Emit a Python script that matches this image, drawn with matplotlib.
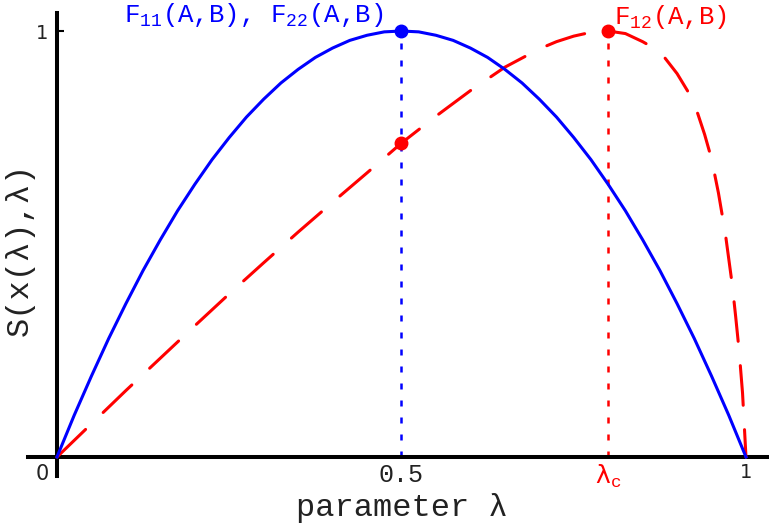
import matplotlib.pyplot as plt

# F11 / F22 curve (solid blue)
lam_blue = [0, 0.025, 0.05, 0.075, 0.1, 0.125, 0.15, 0.175, 0.2, 0.225, 0.25,
            0.275, 0.3, 0.325, 0.35, 0.375, 0.4, 0.425, 0.45, 0.475, 0.5,
            0.525, 0.55, 0.575, 0.6, 0.625, 0.65, 0.675, 0.7, 0.725, 0.75,
            0.775, 0.8, 0.825, 0.85, 0.875, 0.9, 0.925, 0.95, 0.975, 1.0]
s_blue = [0, 0.098, 0.19, 0.278, 0.36, 0.438, 0.51, 0.578, 0.64, 0.698, 0.75,
          0.798, 0.84, 0.878, 0.91, 0.938, 0.96, 0.978, 0.99, 0.998, 1.0,
          0.998, 0.99, 0.978, 0.96, 0.938, 0.91, 0.878, 0.84, 0.798, 0.75,
          0.698, 0.64, 0.578, 0.51, 0.438, 0.36, 0.278, 0.19, 0.098, 0]

# F12 curve (dashed red)
lam_red = [0, 0.05, 0.1, 0.15, 0.2, 0.25, 0.3, 0.35, 0.4, 0.45, 0.5, 0.55,
           0.6, 0.65, 0.7, 0.725, 0.75, 0.775, 0.8, 0.825, 0.85, 0.875, 0.9,
           0.915, 0.93, 0.94, 0.95, 0.96, 0.97, 0.98, 0.985, 0.99, 0.995, 1.0]
s_red = [0, 0.078, 0.156, 0.232, 0.308, 0.383, 0.456, 0.528, 0.598, 0.667,
         0.737, 0.800, 0.860, 0.915, 0.958, 0.975, 0.988, 0.997, 1.0, 0.994,
         0.975, 0.952, 0.90, 0.86, 0.806, 0.757, 0.70, 0.62, 0.525, 0.405,
         0.33, 0.25, 0.15, 0]

lam_half = 0.5
lam_c = 0.8

xtick_pos = [0.5, lam_c, 1]
xtick_txt = ['0.5', 'λ$_\\mathrm{c}$', '1']

plt.rcParams['mathtext.fontset'] = 'custom'
plt.rcParams['mathtext.rm'] = 'Liberation Mono'
plt.rcParams['mathtext.it'] = 'Liberation Mono'

fig = plt.figure(figsize=(7.69, 5.29), dpi=100)
ax = fig.add_axes([0, 0, 1, 1])
ax.set_xlim(-0.0827, 1.0334)
ax.set_ylim(-0.169, 1.0728)

ax.plot(lam_red, s_red, color='red', lw=2.2, dashes=(13, 8),
        dash_capstyle='round', zorder=3)
ax.plot(lam_blue, s_blue, color='blue', lw=2.2, zorder=4)

peak_blue = max(s_blue)
red_half = s_red[lam_red.index(lam_half)]
red_peak = s_red[lam_red.index(lam_c)]

# dotted guides down to the axis
ax.plot([lam_half, lam_half], [0, peak_blue], color='blue', lw=1.8,
        ls=(0, (2.4, 4.4)), zorder=2)
ax.plot([lam_c, lam_c], [0, red_peak], color='red', lw=1.8,
        ls=(0, (2.4, 4.4)), zorder=2)

ax.plot([lam_half], [peak_blue], 'o', color='blue', ms=9, zorder=5)
ax.plot([lam_half], [red_half], 'o', color='red', ms=9, zorder=5)
ax.plot([lam_c], [red_peak], 'o', color='red', ms=9, zorder=5)

# axes crossing at the origin
for side in ['top', 'right']:
    ax.spines[side].set_visible(False)
ax.spines['left'].set_position(('data', 0))
ax.spines['bottom'].set_position(('data', 0))
ax.spines['left'].set_bounds(-0.045, 1.043)
ax.spines['bottom'].set_bounds(-0.042, 1.04)
ax.spines['left'].set_linewidth(2.9)
ax.spines['bottom'].set_linewidth(2.9)

ax.set_yticks([1])
ax.set_yticklabels(['1'])
ax.tick_params(axis='y', direction='in', length=5, width=1.5, pad=6,
               labelsize=14, labelcolor='#222222')
ax.set_xticks(xtick_pos)
ax.set_xticklabels(xtick_txt)
ax.tick_params(axis='x', length=0, pad=4.5, labelcolor='#222222')
for tl in ax.get_yticklabels():
    tl.set_fontfamily('DejaVu Sans')
xl = ax.get_xticklabels()
xl[0].set_fontfamily('Liberation Mono')
xl[0].set_fontsize(18)
xl[1].set_fontfamily('DejaVu Sans')
xl[1].set_fontsize(18)
xl[1].set_color('red')
xl[2].set_fontfamily('DejaVu Sans')
xl[2].set_fontsize(14)

ax.text(-0.021, -0.041, '0', ha='center', va='center', fontsize=15,
        family='DejaVu Sans', color='#222222')

ax.text(0.5, -0.1385, 'parameter λ', ha='center', va='baseline',
        fontsize=23, family='Liberation Mono', color='#222222')
ax.text(-0.054, 0.488, 'S(x(λ),λ)', ha='center', va='center', rotation=90,
        fontsize=23, family='Liberation Mono', color='#222222')

ax.text(0.0975, 1.021, 'F$_{11}$(A,B), F$_{22}$(A,B)', ha='left',
        va='baseline', fontsize=18.5, family='Liberation Mono', color='blue')
ax.text(0.808, 1.017, 'F$_{12}$(A,B)', ha='left', va='baseline',
        fontsize=18.5, family='Liberation Mono', color='red')

fig.savefig('out.png', dpi=100)
